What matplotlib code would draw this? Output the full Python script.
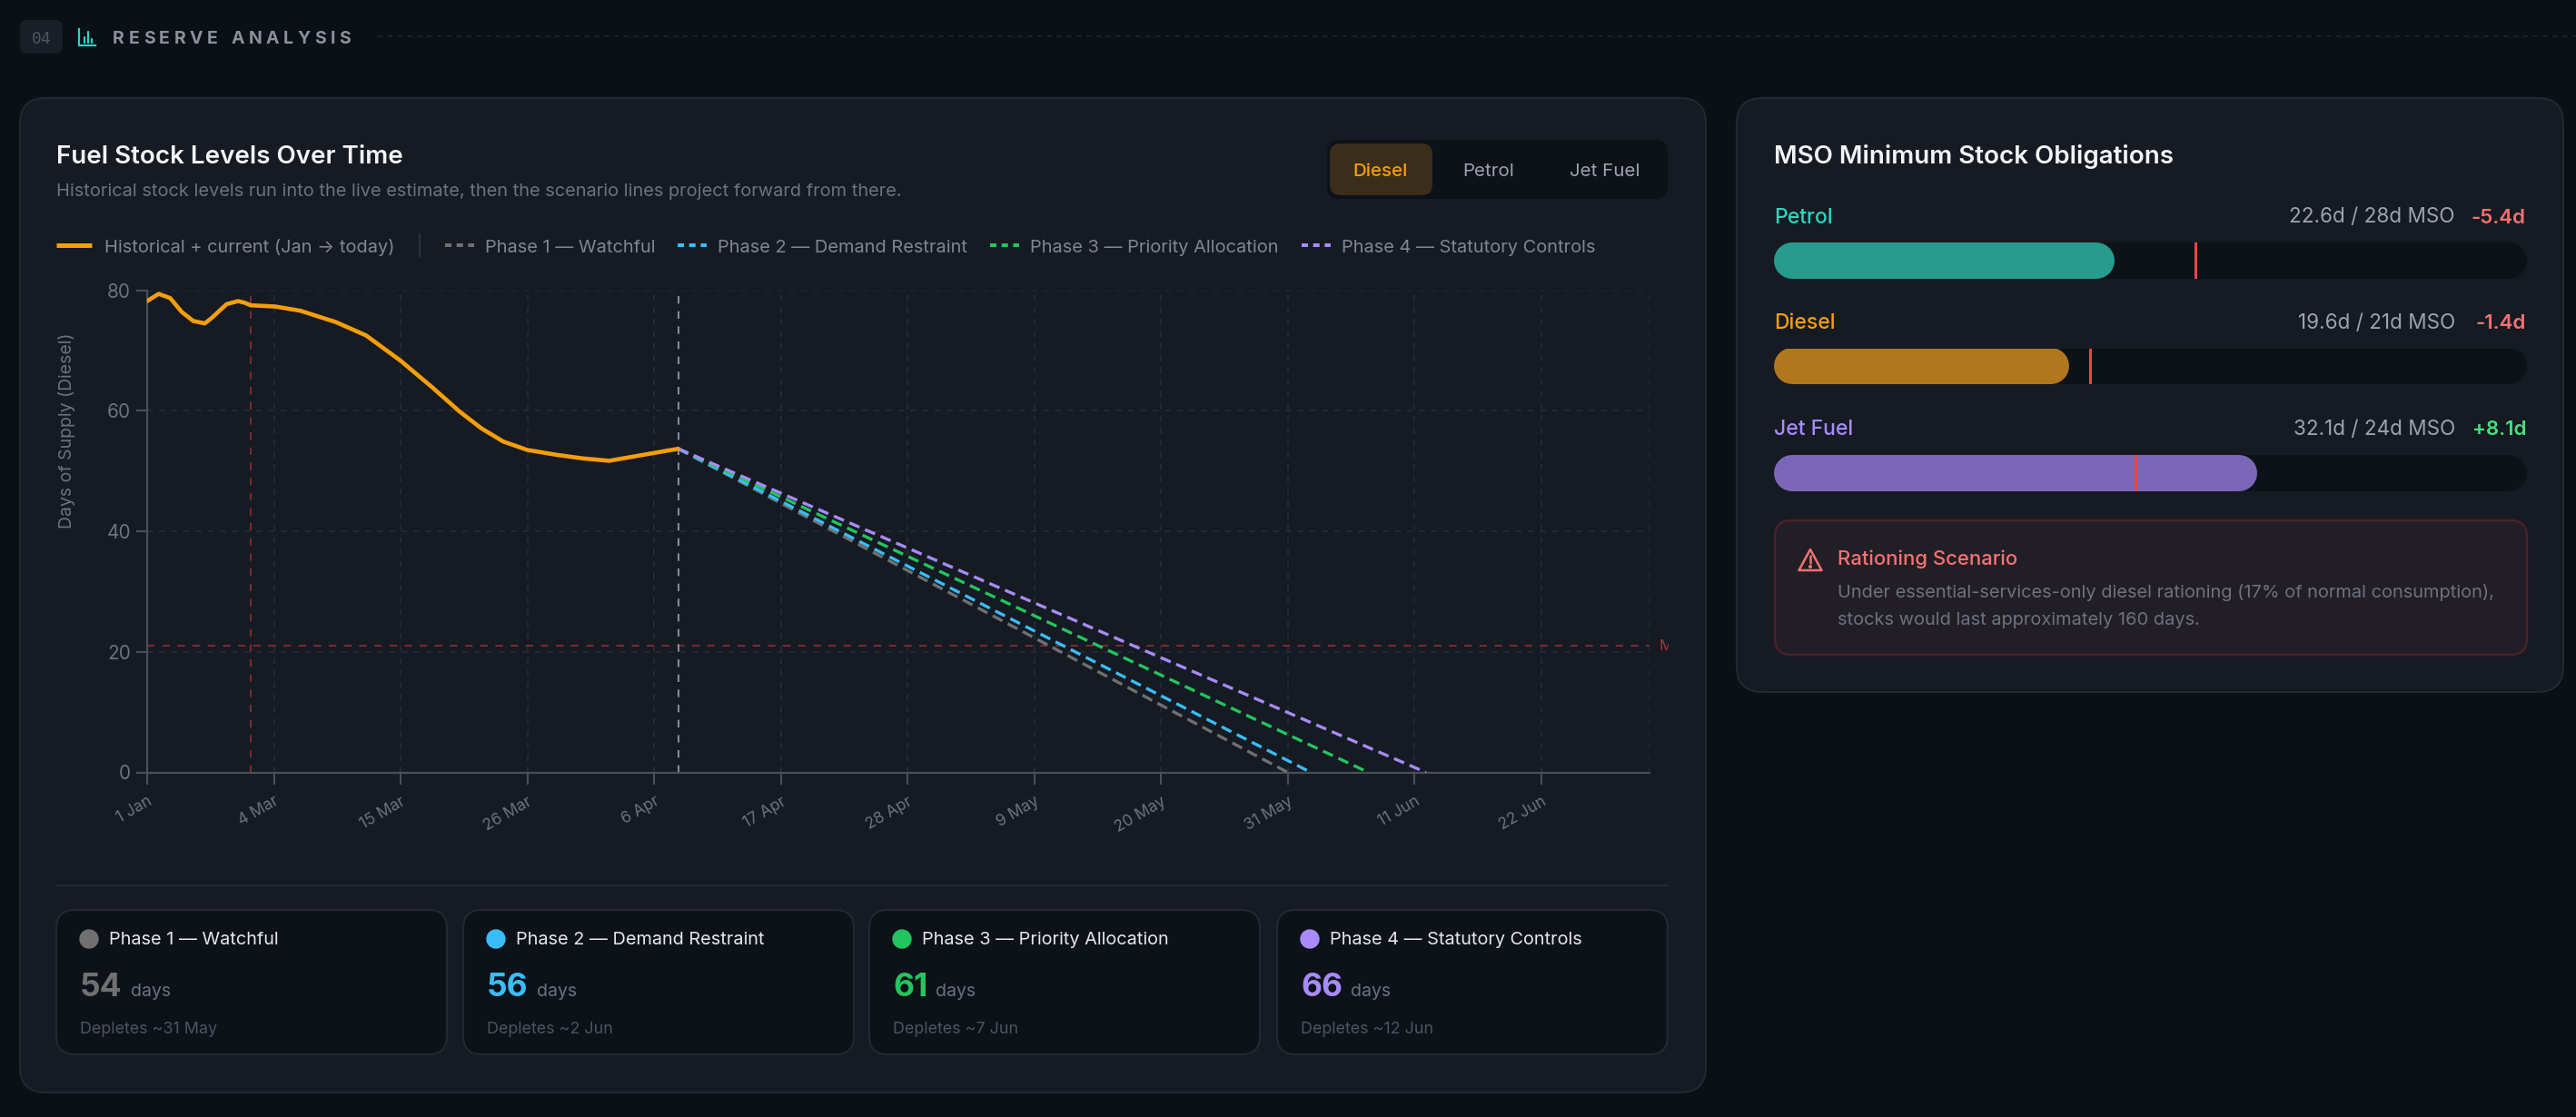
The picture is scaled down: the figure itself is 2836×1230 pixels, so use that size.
import matplotlib
matplotlib.use('Agg')
import matplotlib.pyplot as plt
from matplotlib.patches import FancyBboxPatch, Circle, Polygon, Rectangle

plt.rcParams['font.family'] = ['Inter', 'DejaVu Sans']

W, H = 2836, 1230

# colours
BG = '#0b0f16'
CARD = '#161a22'
CARD_EDGE = '#232831'
INNER = '#0d1118'
GRID = '#272c35'
AXIS = '#4a4f58'
MUTED = '#6b7280'
LEGEND_TXT = '#7f8693'
ORANGE = '#f59e0b'
RED = '#ef4444'
RED_SOFT = '#f87171'
GREEN_SOFT = '#4ade80'

# ---- chart data (x = position on the category axis, one step = one tick slot / 11) ----
tick_pos = [0, 11, 22, 33, 44, 55, 66, 77, 88, 99, 110, 121]
tick_labels = ['1 Jan', '4 Mar', '15 Mar', '26 Mar', '6 Apr', '17 Apr',
               '28 Apr', '9 May', '20 May', '31 May', '11 Jun', '22 Jun']
x_max = 130.4

hist_x = [0, 1.0, 2.0, 3.0, 4.0, 5.0, 5.6, 6.9, 7.9, 8.5, 9.0, 11.1, 13.3, 16.4,
          19.0, 22.0, 24.8, 27.1, 29.0, 30.9, 33.0, 35.5, 37.8, 40.1, 43.1, 46.1]
hist_y = [78.2, 79.4, 78.7, 76.4, 74.9, 74.5, 75.4, 77.7, 78.2, 77.9, 77.5, 77.3, 76.6, 74.7,
          72.5, 68.3, 63.8, 59.9, 57.1, 54.9, 53.5, 52.7, 52.1, 51.7, 52.7, 53.7]
hist_label = 'Historical + current (Jan \u2192 today)'

crisis_x = 9.0       # red marker line
today_x = 46.1
diesel_mso = 21

phase_names = ['Phase 1 \u2014 Watchful', 'Phase 2 \u2014 Demand Restraint',
               'Phase 3 \u2014 Priority Allocation', 'Phase 4 \u2014 Statutory Controls']
phase_colors = ['#707070', '#38bdf8', '#22c55e', '#a78bfa']
phase_days = [54, 56, 61, 66]
phase_deplete = ['31 May', '2 Jun', '7 Jun', '12 Jun']
phase_zero_x = [99, 101, 106, 111]

fuel_options = ['Diesel', 'Petrol', 'Jet Fuel']
active_fuel = 'Diesel'

# ---- MSO panel data ----
mso_fuels = ['Petrol', 'Diesel', 'Jet Fuel']
mso_current = [22.6, 19.6, 32.1]
mso_required = [28, 21, 24]
mso_label_colors = ['#2dd4bf', '#f59e0b', '#a78bfa']
mso_bar_colors = ['#279b8d', '#b0771c', '#7b67b8']
mso_scale = 50
rationing_pct = 17
rationing_days = 160

fig = plt.figure(figsize=(W / 100, H / 100), dpi=100, facecolor=BG)
bg = fig.add_axes([0, 0, 1, 1])
bg.set_xlim(0, W)
bg.set_ylim(H, 0)
bg.axis('off')
bg.set_zorder(0)
r = fig.canvas.get_renderer()


def box(x0, y0, x1, y1, rad, fc, ec='none', lw=1.5, z=1):
    bg.add_patch(FancyBboxPatch((x0, y0), x1 - x0, y1 - y0,
                                boxstyle=f'round,pad=0,rounding_size={rad}',
                                fc=fc, ec=ec, lw=lw, zorder=z))


def txt(x, y, s, **kw):
    kw.setdefault('va', 'baseline')
    return bg.text(x, y, s, **kw)


def width(t):
    return t.get_window_extent(r).width


# header
box(22, 22, 69, 59, 8, '#1a1e26')
txt(45.5, 48, '04', ha='center', color='#4b5563', fontsize=13, family='DejaVu Sans Mono')
teal = '#2dd4bf'
bg.plot([87, 87, 105], [32, 50, 50], color=teal, lw=1.6, solid_joinstyle='round')
for bx, top in [(93, 41), (97, 35), (101, 43)]:
    bg.plot([bx, bx], [top, 47], color=teal, lw=1.6, solid_capstyle='round')
x = 124
for ch in 'RESERVE ANALYSIS':
    if ch == ' ':
        x += 10
        continue
    t = txt(x, 48.5, ch, color='#8b919c', fontsize=14, weight='bold')
    x += width(t) + 4.6
bg.plot([416, W], [40, 40], color='#1f242d', lw=1.3, ls=(0, (3, 3)))

# cards
box(22, 108, 1878, 1203, 28, CARD, CARD_EDGE)
box(1912, 108, 2822, 762, 28, CARD, CARD_EDGE)

txt(62, 180, 'Fuel Stock Levels Over Time', color='#f3f4f6', fontsize=20, weight='semibold')
txt(62, 216, 'Historical stock levels run into the live estimate, then the scenario lines project forward from there.',
    color=MUTED, fontsize=14.4)

# fuel toggle
box(1461, 154, 1836, 219, 14, INNER)
box(1464, 158, 1577, 215, 12, '#3a2e1b')
for name, cx in zip(fuel_options, [1520, 1639, 1767]):
    on = name == active_fuel
    txt(cx, 194, name, ha='center', fontsize=14.8, color=ORANGE if on else '#9ca3af',
        weight='medium' if on else 'normal')

# legend
ly = 270
bg.plot([62, 101], [ly, ly], color=ORANGE, lw=3.6, solid_capstyle='butt')
t = txt(115, 278, hist_label, color=LEGEND_TXT, fontsize=14.4)
x = 115 + width(t) + 27
bg.plot([x, x], [258, 283], color='#2f343d', lw=1.3)
x += 28
for name, col in zip(phase_names, phase_colors):
    bg.plot([x, x + 32], [ly, ly], color=col, lw=2.9, dashes=(1.75, 1.4), solid_capstyle='butt',
            dash_capstyle='butt')
    t = txt(x + 44, 278, name, color=LEGEND_TXT, fontsize=14.4)
    x = x + 44 + width(t) + 25

# main chart
ax = fig.add_axes([162 / W, 1 - 850.5 / H, (1816 - 162) / W, (850.5 - 319.6) / H])
ax.set_zorder(2)
ax.set_facecolor('none')
ax.set_xlim(0, x_max)
ax.set_ylim(0, 80)
ax.set_yticks([0, 20, 40, 60, 80])
ax.set_xticks(tick_pos)
ax.set_xticklabels(tick_labels, rotation=30, ha='right', rotation_mode='anchor')
ax.grid(True, color=GRID, lw=1.2, ls=(0, (4, 4)))
ax.axvline(x_max, color=GRID, lw=1.2, ls=(0, (4, 4)))
for s in ['top', 'right']:
    ax.spines[s].set_visible(False)
for s in ['left', 'bottom']:
    ax.spines[s].set_color(AXIS)
    ax.spines[s].set_linewidth(1.6)
ax.tick_params(axis='both', length=9, width=1.5, color=AXIS, labelcolor=MUTED)
ax.tick_params(axis='y', labelsize=15, pad=4)
ax.tick_params(axis='x', labelsize=12.6, pad=8)
ax.set_ylabel('Days of Supply (Diesel)', color=MUTED, fontsize=14)
ax.yaxis.set_label_coords(-0.048, 0.708)

ax.axvline(crisis_x, color='#7a2b2f', lw=1.5, ls=(0, (4, 4)))
ax.axhline(diesel_mso, color='#7a2b2f', lw=1.5, ls=(0, (4, 4)))
ax.axvline(today_x, color='#9aa0aa', lw=1.5, ls=(0, (4, 4)), alpha=0.85)

ax.plot(hist_x, hist_y, color=ORANGE, lw=3.3, solid_joinstyle='round', solid_capstyle='round', zorder=5)
for col, zx in zip(phase_colors, phase_zero_x):
    ax.plot([hist_x[-1], zx], [hist_y[-1], 0], color=col, lw=2.4, dashes=(3.6, 2.0), zorder=4)

# MSO tag at the right edge of the chart, cut off by the canvas edge like in the app
mso_y = 850.5 - diesel_mso * (850.5 - 319.6) / 80
txt(1827, mso_y, 'MSO', va='center', color='#a3323a', fontsize=12, zorder=3)
bg.add_patch(Rectangle((1837, mso_y - 15), 36, 30, color=CARD, zorder=4))

# phase cards
bg.plot([62, 1836], [975, 975], color='#242931', lw=1.5)
for i, x0 in enumerate([62, 510, 957, 1406]):
    box(x0, 1002, x0 + 430, 1161, 20, INNER, '#232831')
    bg.add_patch(Circle((x0 + 36, 1034), 10, color=phase_colors[i], zorder=2))
    txt(x0 + 58, 1040, phase_names[i], color='#e5e7eb', fontsize=14.3)
    t = txt(x0 + 26, 1097, str(phase_days[i]), color=phase_colors[i], fontsize=25.5, weight='bold')
    txt(x0 + 26 + width(t) + 9, 1097, 'days', color=MUTED, fontsize=14)
    txt(x0 + 26, 1138, f'Depletes ~{phase_deplete[i]}', color='#4b5563', fontsize=12.9)

# MSO panel
txt(1953, 180, 'MSO Minimum Stock Obligations', color='#f3f4f6', fontsize=20, weight='semibold')
label_y = [245.5, 362, 479]
bar_y = [287, 403.5, 521]
track_x0, track_x1 = 1953, 2782
cap = 20 / (track_x1 - track_x0) * mso_scale
for i, fuel in enumerate(mso_fuels):
    txt(1953, label_y[i], fuel, color=mso_label_colors[i], fontsize=16.5, weight='medium')
    delta = mso_current[i] - mso_required[i]
    txt(2703, label_y[i], f'{mso_current[i]:.1f}d / {mso_required[i]}d MSO', ha='right',
        color='#9ca3af', fontsize=16.2)
    txt(2781, label_y[i], f'{delta:+.1f}d', ha='right', fontsize=16, weight='semibold',
        color=RED_SOFT if delta < 0 else GREEN_SOFT)
    bax = fig.add_axes([track_x0 / W, 1 - (bar_y[i] + 20) / H, (track_x1 - track_x0) / W, 40 / H])
    bax.set_zorder(3)
    bax.set_xlim(0, mso_scale)
    bax.set_ylim(0, 1)
    bax.axis('off')
    bax.plot([cap, mso_scale - cap], [0.5, 0.5], color=INNER, lw=28.8, solid_capstyle='round')
    bax.plot([cap, mso_current[i] - cap], [0.5, 0.5], color=mso_bar_colors[i], lw=28.8,
             solid_capstyle='round')
    bax.plot([mso_required[i]] * 2, [0, 1], color=RED, lw=2.2)

# rationing note
box(1954, 573, 2782, 721, 18, '#221e25', '#4a2229', lw=1.8)
bg.add_patch(Polygon([(1993, 605), (1980.5, 628), (2005.5, 628)], closed=True, fill=False,
                     ec=RED_SOFT, lw=1.8, joinstyle='round', zorder=2))
bg.plot([1993, 1993], [612, 619.5], color=RED_SOFT, lw=1.8, solid_capstyle='round')
bg.add_patch(Circle((1993, 624), 1.3, color=RED_SOFT, zorder=2))
txt(2023, 622.5, 'Rationing Scenario', color=RED_SOFT, fontsize=15.9, weight='medium')
txt(2023, 657.5, f'Under essential-services-only diesel rationing ({rationing_pct}% of normal consumption),',
    color=MUTED, fontsize=14.4)
txt(2023, 687.5, f'stocks would last approximately {rationing_days} days.', color=MUTED, fontsize=14.4)

fig.savefig('out.png', dpi=100, facecolor=BG)
